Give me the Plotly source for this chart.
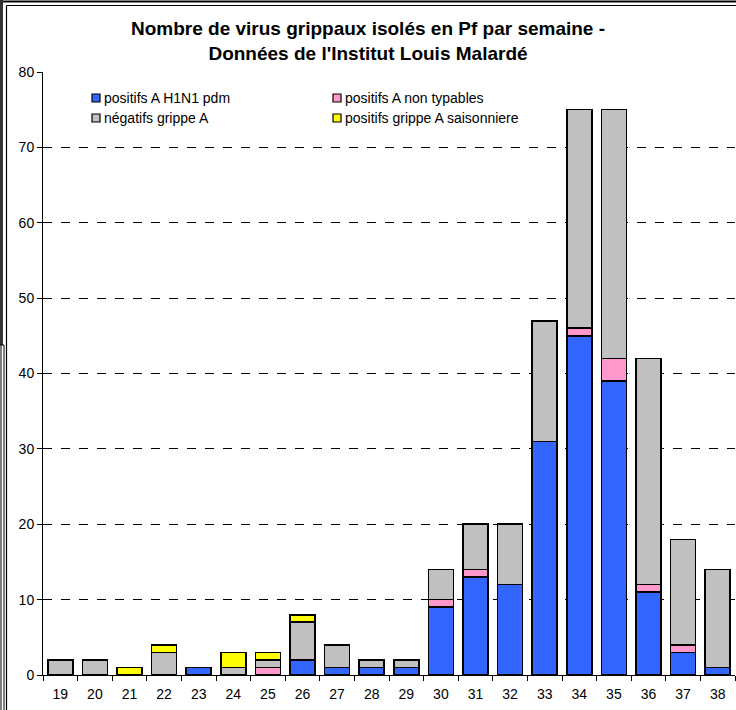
import plotly.graph_objects as go

weeks = [str(w) for w in range(19, 39)]
h1n1 = [0, 0, 0, 0, 1, 0, 0, 2, 1, 1, 1, 9, 13, 12, 31, 45, 39, 11, 3, 1]
non_typables = [0, 0, 0, 0, 0, 0, 1, 0, 0, 0, 0, 1, 1, 0, 0, 1, 3, 1, 1, 0]
negatifs = [2, 2, 0, 3, 0, 1, 1, 5, 3, 1, 1, 4, 6, 8, 16, 29, 33, 30, 14, 13]
saisonniere = [0, 0, 1, 1, 0, 2, 1, 1, 0, 0, 0, 0, 0, 0, 0, 0, 0, 0, 0, 0]

series = [
    ("positifs A H1N1 pdm", h1n1, "#3366FF"),
    ("positifs A non typables", non_typables, "#FF99CC"),
    ("négatifs grippe A", negatifs, "#C0C0C0"),
    ("positifs grippe A saisonniere", saisonniere, "#FFFF00"),
]

fig = go.Figure()
for name, vals, col in series:
    fig.add_trace(go.Bar(
        x=weeks, y=vals, name=name, marker_color=col,
        marker_line_color="black", marker_line_width=1.6,
        showlegend=False,
    ))

W, H = 736, 710
L, R, T, B = 43, 1, 72, 35
pw = W - L - R
ph = H - T - B

def px(x):
    return (x - L) / pw

def py(y):
    return (H - B - y) / ph

shapes = []
annotations = []
legend_pos = [(92, 98), (333, 98), (92, 118), (333, 118)]
for (name, vals, col), (lx, ly) in zip(series, legend_pos):
    shapes.append(dict(type="rect", xref="paper", yref="paper",
                       x0=px(lx), x1=px(lx + 8), y0=py(ly + 4), y1=py(ly - 4),
                       fillcolor=col, line=dict(color="black", width=1.2)))
    annotations.append(dict(text=name, xref="paper", yref="paper",
                            x=px(lx + 10), y=py(ly), xanchor="left", yanchor="middle",
                            showarrow=False, font=dict(size=14, color="black")))

shapes += [
    dict(type="line", xref="paper", yref="paper", x0=px(0), x1=px(W), y0=py(1.5), y1=py(1.5), line=dict(color="black", width=2)),
    dict(type="line", xref="paper", yref="paper", x0=px(6.5), x1=px(W), y0=py(5.5), y1=py(5.5), line=dict(color="black", width=1.2)),
    dict(type="line", xref="paper", yref="paper", x0=px(1.5), x1=px(1.5), y0=py(0), y1=py(345), line=dict(color="#333333", width=3)),
    dict(type="line", xref="paper", yref="paper", x0=px(6.5), x1=px(6.5), y0=py(5.5), y1=py(H), line=dict(color="black", width=1.2)),
    dict(type="line", xref="paper", yref="paper", x0=px(0), x1=px(4), y0=py(345), y1=py(345), line=dict(color="black", width=1)),
    dict(type="line", xref="paper", yref="paper", x0=px(1), x1=px(1), y0=py(345), y1=py(H), line=dict(color="black", width=1)),
    dict(type="line", xref="paper", yref="paper", x0=px(4), x1=px(4), y0=py(345), y1=py(H), line=dict(color="black", width=1)),
]

fig.update_layout(
    width=W, height=H,
    margin=dict(l=L, r=R, t=T, b=B),
    barmode="stack",
    bargap=0.28,
    paper_bgcolor="white",
    plot_bgcolor="white",
    font=dict(family="Liberation Sans, Arial, sans-serif", size=14, color="black"),
    title=dict(
        text="<b>Nombre de virus grippaux isolés en Pf par semaine -<br>Données de l'Institut Louis Malardé</b>",
        x=px(389), xanchor="center", y=1 - 35 / H, yanchor="middle",
        font=dict(size=19, color="black"),
    ),
    xaxis=dict(
        type="category", showgrid=False, showline=True, linecolor="black", linewidth=1,
        ticks="outside", ticklen=5, tickcolor="black", tickson="boundaries",
        tickfont=dict(size=14), fixedrange=True, ticklabelstandoff=6,
    ),
    yaxis=dict(
        range=[0, 80], dtick=10, showgrid=True, gridcolor="black", gridwidth=1,
        griddash="dash", showline=True, linecolor="black", linewidth=1,
        ticks="outside", ticklen=5, tickcolor="black", zeroline=False,
        tickfont=dict(size=14), fixedrange=True,
    ),
    shapes=shapes,
    annotations=annotations,
)

fig.write_html(
    "out.html",
    config={"displayModeBar": False},
    post_script="document.body.style.margin='0';document.documentElement.style.overflow='hidden';document.body.style.overflow='hidden';",
)
